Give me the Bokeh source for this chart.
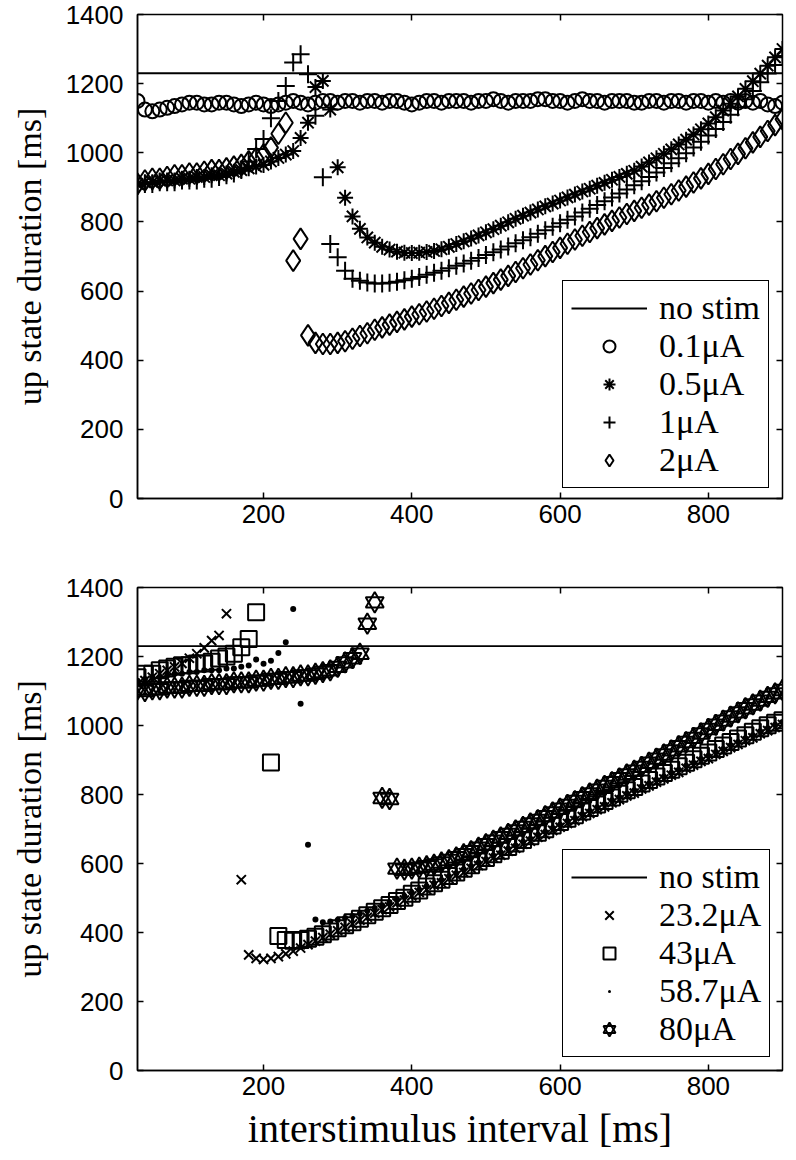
import numpy as np
from bokeh.plotting import figure
from bokeh.models import Range1d, FixedTicker, LinearAxis, Legend, LegendItem
from bokeh.layouts import column
from bokeh.embed import file_html
from bokeh.resources import INLINE

nan = float("nan")

# interstimulus interval grid [ms]
ISI = list(range(30, 901, 10))
NO_STIM = 1230
X_TICKS = [200, 400, 600, 800]
Y_TICKS = [0, 200, 400, 600, 800, 1000, 1200, 1400]

# ---------------- top panel ----------------
LABELS_TOP = ["0.1\u03bcA", "0.5\u03bcA", "1\u03bcA", "2\u03bcA"]
UP_01 = [1150, 1125, 1120, 1125, 1130, 1135, 1140, 1145, 1145, 1140,
         1140, 1145, 1145, 1140, 1135, 1140, 1145, 1140, 1135, 1140,
         1145, 1150, 1145, 1140, 1145, 1150, 1150, 1145, 1150, 1150,
         1145, 1150, 1150, 1145, 1150, 1150, 1145, 1140, 1145, 1150,
         1150, 1145, 1150, 1150, 1150, 1145, 1150, 1150, 1155, 1150,
         1145, 1150, 1150, 1150, 1155, 1155, 1150, 1150, 1145, 1150,
         1155, 1150, 1150, 1145, 1150, 1150, 1150, 1145, 1145, 1150,
         1150, 1145, 1150, 1150, 1145, 1150, 1150, 1145, 1150, 1145,
         1150, 1145, 1150, 1145, 1150, 1140, 1135, 1145]
UP_05 = [910, 915, 915, 920, 920, 920, 925, 925, 930, 930,
         935, 935, 940, 945, 950, 955, 960, 965, 975, 985,
         995, 1005, 1043, 1087, 1190, 1208, 1125, 958, 870, 816,
         780, 755, 740, 728, 720, 714, 711, 710, 711, 713,
         716, 721, 728, 736, 744, 752, 761, 770, 779, 789,
         799, 809, 818, 827, 836, 845, 853, 862, 871, 879,
         888, 896, 905, 913, 922, 930, 939, 948, 960, 972,
         984, 997, 1010, 1024, 1038, 1053, 1068, 1085, 1103, 1122,
         1142, 1163, 1185, 1207, 1229, 1252, 1276, 1300]
UP_1 = [905, 910, 910, 915, 915, 915, 920, 920, 920, 925,
        925, 930, 935, 940, 950, 975, 1011, 1040, 1100, 1150,
        1193, 1261, 1285, 1227, 1107, 929, 736, 698, 659, 636,
        630, 625, 622, 622, 624, 627, 631, 636, 641, 647,
        653, 659, 666, 673, 680, 688, 696, 704, 712, 720,
        729, 738, 747, 756, 766, 776, 786, 796, 806, 816,
        827, 838, 849, 860, 871, 882, 894, 906, 918, 930,
        943, 956, 970, 984, 999, 1015, 1032, 1050, 1069, 1089,
        1110, 1132, 1155, 1179, 1204, 1229, 1254, 1280]
UP_2 = [910, 920, 925, 925, 930, 935, 935, 940, 940, 945,
        950, 950, 955, 960, 965, 975, 985, 995, 1015, 1055,
        1087, 688, 751, 472, 450, 447, 447, 450, 455, 462,
        470, 478, 488, 495, 503, 511, 518, 526, 533, 541,
        549, 557, 566, 575, 584, 593, 603, 613, 623, 633,
        644, 655, 666, 677, 689, 701, 713, 725, 737, 749,
        760, 771, 782, 793, 803, 813, 823, 832, 841, 850,
        860, 870, 880, 891, 902, 914, 926, 939, 953, 967,
        982, 997, 1013, 1030, 1046, 1063, 1080, 1097]

# ---------------- bottom panel ----------------
LABELS_BOT = ["23.2\u03bcA", "43\u03bcA", "58.7\u03bcA", "80\u03bcA"]
UP_232 = [1120, 1130, 1140, 1150, 1160, 1170, 1180, 1195, 1208, 1225,
          1246, 1261, 1324, nan, 553, 335, 325, 322, 325, 330,
          338, 346, 355, 365, 375, 385, 395, 405, 415, 425,
          436, 444, 456, 466, 474, 486, 494, 506, 516, 524,
          537, 544, 556, 566, 574, 586, 594, 606, 616, 624,
          636, 644, 656, 665, 676, 684, 696, 705, 716, 724,
          736, 745, 756, 764, 776, 785, 796, 804, 816, 825,
          836, 845, 856, 864, 876, 885, 896, 904, 916, 925,
          936, 945, 956, 964, 976, 985, 994, 1003]
UP_43 = [1140, 1150, 1150, 1160, 1165, 1170, 1175, 1175, 1180, 1180,
         1185, 1194, 1200, 1208, 1227, 1251, 1328, nan, 893, 390,
         378, 376, 378, 382, 388, 395, 403, 412, 421, 430,
         440, 450, 460, 470, 480, 491, 501, 512, 522, 533,
         543, 553, 564, 574, 585, 595, 606, 616, 627, 637,
         648, 658, 668, 679, 689, 699, 710, 720, 730, 740,
         751, 761, 771, 781, 791, 802, 812, 822, 832, 842,
         852, 862, 872, 882, 892, 902, 912, 922, 932, 942,
         952, 962, 972, 982, 992, 1001, 1008, 1015]
UP_587 = [1130, 1135, 1140, 1140, 1145, 1150, 1150, 1155, 1155, 1160,
          1160, 1160, 1165, 1165, 1170, 1174, 1191, 1179, 1188, 1210,
          1241, 1338, 1063, 654, 438, 430, 432, 436, 442, 448,
          455, 463, 471, 479, 488, 497, 506, 515, 524, 534,
          543, 552, 563, 572, 583, 592, 603, 612, 623, 632,
          643, 652, 663, 672, 683, 692, 703, 712, 723, 732,
          743, 752, 763, 772, 783, 792, 803, 812, 823, 832,
          843, 852, 863, 872, 883, 892, 903, 912, 923, 932,
          943, 952, 963, 972, 983, 992, 1002, 1010]
UP_80 = [1105, 1100, 1105, 1105, 1110, 1110, 1110, 1115, 1115, 1115,
         1120, 1120, 1120, 1125, 1125, 1125, 1130, 1130, 1135, 1135,
         1140, 1140, 1145, 1145, 1150, 1155, 1160, 1170, 1183, 1195,
         1208, 1295, 1357, 790, 787, 585, 582, 585, 588, 592,
         597, 603, 610, 618, 627, 636, 646, 656, 666, 676,
         686, 696, 706, 716, 726, 737, 748, 759, 770, 781,
         792, 803, 814, 825, 836, 847, 858, 869, 880, 892,
         904, 916, 928, 940, 952, 964, 977, 990, 1002, 1014,
         1026, 1038, 1050, 1061, 1072, 1083, 1093, 1103]

TICK_FONT = "Liberation Sans"
LABEL_FONT = "Liberation Serif"


def mirror_axis(ticks):
    return LinearAxis(ticker=FixedTicker(ticks=ticks), major_label_text_font_size="1px",
                      major_label_text_color=None, major_tick_in=6, major_tick_out=0,
                      minor_tick_line_color=None, axis_line_color=None,
                      major_tick_line_width=1.5, major_tick_line_color="black",
                      major_label_standoff=0)


def make_fig(height, b_top, b_bottom, xlabel):
    p = figure(width=796, height=height, output_backend="svg", toolbar_location=None,
               x_range=Range1d(ISI[0], ISI[-1]), y_range=Range1d(Y_TICKS[0], Y_TICKS[-1]),
               min_border_left=137, min_border_right=14,
               min_border_top=b_top, min_border_bottom=b_bottom)
    p.xgrid.visible = False
    p.ygrid.visible = False
    p.outline_line_color = "black"
    p.outline_line_width = 1.5
    p.outline_line_alpha = 1.0
    p.background_fill_color = "white"
    p.border_fill_color = "white"
    p.xaxis.ticker = FixedTicker(ticks=X_TICKS)
    p.yaxis.ticker = FixedTicker(ticks=Y_TICKS)
    for ax in (p.xaxis, p.yaxis):
        ax.major_tick_in = 6
        ax.major_tick_out = 0
        ax.minor_tick_line_color = None
        ax.axis_line_width = 1.5
        ax.axis_line_color = "black"
        ax.major_tick_line_width = 1.5
        ax.major_label_text_font = TICK_FONT
        ax.major_label_text_font_size = "26px"
        ax.major_label_text_color = "black"
        ax.axis_label_text_font = LABEL_FONT
        ax.axis_label_text_font_style = "normal"
        ax.axis_label_text_color = "black"
    p.yaxis.major_label_standoff = 14
    p.yaxis.axis_label = "up state duration [ms]"
    p.yaxis.axis_label_text_font_size = "34px"
    p.yaxis.axis_label_standoff = 15
    p.xaxis.major_label_standoff = 6
    if xlabel:
        p.xaxis.axis_label = xlabel
        p.xaxis.axis_label_text_font_size = "40px"
        p.xaxis.axis_label_standoff = 8
    p.add_layout(mirror_axis(Y_TICKS), "right")
    p.add_layout(mirror_axis(X_TICKS), "above")
    return p


def add_legend(p, items, loc):
    leg = Legend(items=items, location=loc)
    leg.label_text_font = LABEL_FONT
    leg.label_text_font_size = "34px"
    leg.label_text_color = "black"
    leg.border_line_color = "black"
    leg.border_line_width = 1.5
    leg.border_line_alpha = 1.0
    leg.background_fill_alpha = 1.0
    leg.padding = 8
    leg.spacing = 0
    leg.margin = 0
    leg.glyph_width = 76
    leg.glyph_height = 30
    leg.label_height = 30
    leg.label_standoff = 12
    p.add_layout(leg)


LW = 2.0

# ---------- top ----------
p1 = make_fig(568, 14, 70, None)
r_ns1 = p1.line([ISI[0], ISI[-1]], [NO_STIM, NO_STIM], line_color="black", line_width=1.8)
x = np.array(ISI, dtype=float)
r_a = p1.scatter(x, np.array(UP_01, dtype=float), marker="circle", size=14,
                 fill_color=None, line_color="black", line_width=LW)
r_b = p1.scatter(x, np.array(UP_05, dtype=float), marker="asterisk", size=16,
                 line_color="black", line_width=LW)
r_c = p1.scatter(x, np.array(UP_1, dtype=float), marker="cross", size=18,
                 line_color="black", line_width=LW)
r_d = p1.scatter(x, np.array(UP_2, dtype=float), marker="diamond", size=21,
                 fill_color=None, line_color="black", line_width=LW)
add_legend(p1, [LegendItem(label="no stim", renderers=[r_ns1]),
                LegendItem(label=LABELS_TOP[0], renderers=[r_a]),
                LegendItem(label=LABELS_TOP[1], renderers=[r_b]),
                LegendItem(label=LABELS_TOP[2], renderers=[r_c]),
                LegendItem(label=LABELS_TOP[3], renderers=[r_d])], (425, 10))

# ---------- bottom ----------
p2 = make_fig(590, 19, 88, "interstimulus interval [ms]")
r_ns2 = p2.line([ISI[0], ISI[-1]], [NO_STIM, NO_STIM], line_color="black", line_width=1.8)
r_e = p2.scatter(x, np.array(UP_232, dtype=float), marker="x", size=13,
                 line_color="black", line_width=LW)
r_f = p2.scatter(x, np.array(UP_43, dtype=float), marker="square", size=16,
                 fill_color=None, line_color="black", line_width=LW)
r_g = p2.scatter(x, np.array(UP_587, dtype=float), marker="dot", size=24,
                 line_color="black", fill_color="black", line_width=1)
y80 = np.array(UP_80, dtype=float)
r_h1 = p2.scatter(x, y80, marker="triangle", size=18, fill_color=None,
                  line_color="black", line_width=LW)
r_h2 = p2.scatter(x, y80, marker="inverted_triangle", size=18, fill_color=None,
                  line_color="black", line_width=LW)
add_legend(p2, [LegendItem(label="no stim", renderers=[r_ns2]),
                LegendItem(label=LABELS_BOT[0], renderers=[r_e]),
                LegendItem(label=LABELS_BOT[1], renderers=[r_f]),
                LegendItem(label=LABELS_BOT[2], renderers=[r_g]),
                LegendItem(label=LABELS_BOT[3], renderers=[r_h1, r_h2])], (425, 13))

layout = column(p1, p2, spacing=0)
open("out.html", "w").write(file_html(layout, INLINE))
